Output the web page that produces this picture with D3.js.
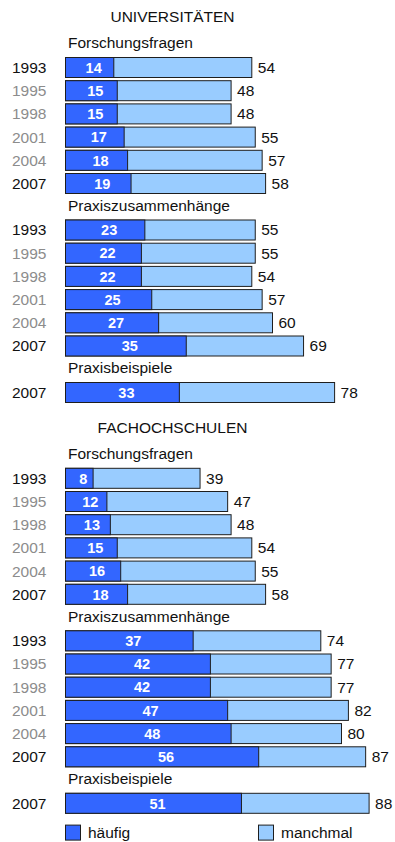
<!DOCTYPE html>
<html>
<head>
<meta charset="utf-8">
<script src="https://cdn.jsdelivr.net/npm/d3@7"></script>
<style>
  html, body { margin: 0; padding: 0; background: #fff; }
  svg { display: block; font-family: "Liberation Sans", Arial, sans-serif; }
</style>
</head>
<body>
<svg id="chart" width="395" height="842"></svg>
<script>
// Survey years
const years = [1993, 1995, 1998, 2001, 2004, 2007];
const yearsLatest = [2007];

// Universitäten: share "häufig" and total share (häufig + manchmal), in %
const uniForschungHaeufig = [14, 15, 15, 17, 18, 19];
const uniForschungGesamt  = [54, 48, 48, 55, 57, 58];
const uniPraxisHaeufig    = [23, 22, 22, 25, 27, 35];
const uniPraxisGesamt     = [55, 55, 54, 57, 60, 69];
const uniBeispielHaeufig  = [33];
const uniBeispielGesamt   = [78];

// Fachhochschulen
const fhForschungHaeufig = [8, 12, 13, 15, 16, 18];
const fhForschungGesamt  = [39, 47, 48, 54, 55, 58];
const fhPraxisHaeufig    = [37, 42, 42, 47, 48, 56];
const fhPraxisGesamt     = [74, 77, 77, 82, 80, 87];
const fhBeispielHaeufig  = [51];
const fhBeispielGesamt   = [88];

const sectionTitles = ["UNIVERSITÄTEN", "FACHOCHSCHULEN"];
const groupNames = ["Forschungsfragen", "Praxiszusammenhänge", "Praxisbeispiele"];
const legendLabels = ["häufig", "manchmal"];

const sections = [
  { title: sectionTitles[0], groups: [
    { name: groupNames[0], years: years, haeufig: uniForschungHaeufig, gesamt: uniForschungGesamt },
    { name: groupNames[1], years: years, haeufig: uniPraxisHaeufig, gesamt: uniPraxisGesamt },
    { name: groupNames[2], years: yearsLatest, haeufig: uniBeispielHaeufig, gesamt: uniBeispielGesamt }
  ]},
  { title: sectionTitles[1], groups: [
    { name: groupNames[0], years: years, haeufig: fhForschungHaeufig, gesamt: fhForschungGesamt },
    { name: groupNames[1], years: years, haeufig: fhPraxisHaeufig, gesamt: fhPraxisGesamt },
    { name: groupNames[2], years: yearsLatest, haeufig: fhBeispielHaeufig, gesamt: fhBeispielGesamt }
  ]}
];

// Styling
const colDark = "#3366ff";
const colLight = "#99ccff";
const colStroke = "#1e1e1e";
const colText = "#111";
const colYearMuted = "#8c8c8c";
const fontSize = 15.5;

const svg = d3.select("#chart");

// Horizontal percentage scale shared by all bars
const x = d3.scaleLinear().domain([0, 100]).range([65.5, 65.5 + 345]);

// Vertical layout
const rowStep = 23.2, barH = 20;
const pad = (rowStep - barH) / rowStep;
const titleToSub = 26, subToBar = 14.5, barToSub = 32, barToTitle = 45.3, barToLegend = 31.3;

let cursor = 17; // centre of the first section title
sections.forEach((sec, si) => {
  svg.append("text")
    .attr("x", 172.5).attr("y", cursor).attr("dy", "0.35em")
    .attr("text-anchor", "middle")
    .attr("font-size", fontSize).attr("fill", colText)
    .text(sec.title);

  let subY = cursor + titleToSub;
  let lastTop = null;
  sec.groups.forEach((g, gi) => {
    if (gi > 0) subY = lastTop + barToSub;
    svg.append("text")
      .attr("x", 68).attr("y", subY).attr("dy", "0.35em")
      .attr("font-size", fontSize).attr("fill", colText)
      .text(g.name);

    const top = subY + subToBar;
    const n = g.years.length;
    // band scale: step = rowStep, bandwidth = barH, first band starts at top
    const y = d3.scaleBand()
      .domain(g.years)
      .range([top, top + rowStep * n])
      .paddingInner(pad)
      .paddingOuter(pad / 2)
      .align(0);

    const rows = g.years.map((yr, i) => ({ yr, h: g.haeufig[i], t: g.gesamt[i] }));
    const row = svg.append("g").selectAll("g.row").data(rows).join("g").attr("class", "row");
    const cy = d => y(d.yr) + y.bandwidth() / 2;

    // year label
    row.append("text")
      .attr("x", 12).attr("y", cy).attr("dy", "0.35em")
      .attr("font-size", fontSize)
      .attr("fill", d => (d.yr === 1993 || d.yr === 2007) ? colText : colYearMuted)
      .text(d => d.yr);

    // total bar (the manchmal part shows behind the häufig bar)
    row.append("rect")
      .attr("x", x(0)).attr("y", d => y(d.yr))
      .attr("width", d => x(d.t) - x(0)).attr("height", y.bandwidth())
      .attr("fill", colLight).attr("stroke", colStroke).attr("stroke-width", 1);

    row.append("rect")
      .attr("x", x(0)).attr("y", d => y(d.yr))
      .attr("width", d => x(d.h) - x(0)).attr("height", y.bandwidth())
      .attr("fill", colDark).attr("stroke", colStroke).attr("stroke-width", 1);

    // häufig value inside the dark segment
    row.append("text")
      .attr("x", d => (x(0) + x(d.h)) / 2 + 4)
      .attr("y", cy).attr("dy", "0.36em")
      .attr("text-anchor", "middle")
      .attr("font-size", 14.5).attr("font-weight", "bold").attr("fill", "#fff")
      .text(d => d.h);

    // total value after the bar
    row.append("text")
      .attr("x", d => x(d.t) + 6)
      .attr("y", cy).attr("dy", "0.35em")
      .attr("font-size", fontSize).attr("fill", colText)
      .text(d => d.t);

    lastTop = y(g.years[n - 1]);
  });

  cursor = lastTop + (si < sections.length - 1 ? barToTitle : barToLegend);
});

// Legend
const legendX = [65.5, 258.5];
const legendCols = [colDark, colLight];
const lg = svg.selectAll("g.legend").data(legendLabels).join("g").attr("class", "legend");
lg.append("rect")
  .attr("x", (d, i) => legendX[i]).attr("y", cursor + 0.5)
  .attr("width", 15).attr("height", 15)
  .attr("fill", (d, i) => legendCols[i]).attr("stroke", colStroke).attr("stroke-width", 1);
lg.append("text")
  .attr("x", (d, i) => legendX[i] + 22.5).attr("y", cursor + 8).attr("dy", "0.35em")
  .attr("font-size", fontSize).attr("fill", colText)
  .text(d => d);
</script>
</body>
</html>
